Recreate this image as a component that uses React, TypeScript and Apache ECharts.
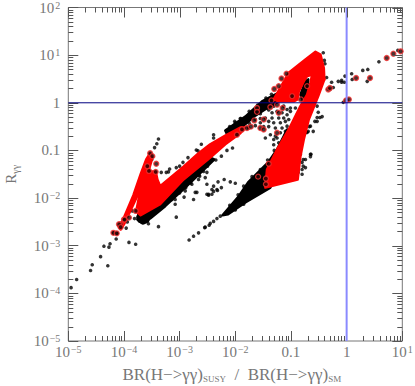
import React, { useEffect, useRef } from "react";
import * as echarts from "echarts";

// All values are log10(BR ratio), log10(R).
const scatterLeft = [[-4.95,-3.88],[-4.85,-3.71],[-4.6,-3.52],[-4.57,-3.4],[-4.42,-3.23],[-4.36,-3.01],[-4.29,-3.42],[-4.27,-3.03],[-4.25,-2.96],[-4.14,-2.86],[-4.19,-2.73],[-4.12,-2.74],[-3.91,-2.93],[-3.79,-2.97],[-3.96,-2.63],[-3.94,-2.5],[-3.81,-2.43],[-3.85,-2.27],[-3.56,-2.54],[-3.38,-2.6],[-3.06,-2.4]];
const scatterChain = [[-2.83,-2.88],[-2.75,-2.8],[-2.66,-2.73],[-2.55,-2.62],[-2.47,-2.57],[-2.54,-2.61],[-2.45,-2.53],[-2.39,-2.49],[-2.33,-2.43],[-2.27,-2.38]];
const scatterLowMid = [[-2.92,-1.98],[-2.69,-1.88],[-2.48,-1.94],[-3.14,-2.03],[-3.08,-2.13],[-2.48,-1.92],[-2.39,-1.86],[-2.32,-1.84],[-2.54,-1.57],[-2.51,-1.71],[-2.39,-1.75],[-2.31,-1.66],[-2.2,-1.61],[-2.09,-1.66],[-2.0,-1.69],[-2.42,-1.82],[-2.33,-1.82],[-2.25,-1.78],[-2.51,-1.92],[-2.42,-1.92]];
const scatterArm = [[-3.38,-0.76],[-3.41,-0.86],[-3.45,-0.94],[-3.52,-1.12],[-3.5,-1.19],[-3.33,-1.46],[-3.24,-1.46],[-3.18,-1.39],[-3.06,-1.36],[-2.94,-1.25],[-2.85,-1.15],[-2.67,-1.01],[-2.61,-0.87],[-2.7,-0.99],[-2.66,-1.61],[-2.72,-1.88],[-2.9,-1.85],[-3.0,-1.89],[-3.08,-2.03],[-2.75,-2.03],[-2.78,-1.71],[-2.89,-1.78],[-2.57,-1.44],[-2.64,-1.54],[-2.51,-1.46]];
const scatterRight = [[-0.8,-1.25],[-0.78,-1.33],[-0.87,-1.46],[-0.8,-1.5],[-0.74,-1.36],[-0.78,-1.19],[-0.74,-1.19],[-0.83,-1.08],[-0.65,-1.08],[-0.65,-1.13],[-0.8,-1.4],[-0.53,-0.31],[-0.48,-0.31],[-0.44,-0.29],[-0.53,-0.39],[-0.65,-0.49],[-0.6,-0.6],[-0.69,-0.6],[-0.71,-0.62],[-0.64,-1.08],[-0.51,-0.2],[-0.53,-0.07],[-0.42,1.05],[-0.4,0.89],[-0.39,0.82],[-0.36,0.53],[-0.27,0.43],[-0.24,0.32],[-0.3,0.28],[-0.15,0.45],[-0.09,0.47],[-0.09,0.43],[-0.03,0.56],[-0.04,0.43],[0.09,0.61],[0.1,0.49],[0.29,0.68],[0.38,0.7],[0.37,0.45],[0.58,0.86],[0.92,1.1],[-0.06,0.01],[-0.57,-0.39],[-0.67,-0.5],[-0.73,-0.62]];
const scatterMiddle = [[-2.39,-0.74],[-2.39,-0.67],[-2.01,-0.39],[-1.91,-0.33],[-1.64,-0.35],[-1.55,-0.33],[-1.46,-0.32],[-1.34,-0.21],[-1.25,-0.18],[-1.16,-0.21],[-1.07,-0.25],[-1.4,-0.39],[-1.31,-0.42],[-1.19,-0.42],[-1.1,-0.39],[-1.04,-0.35],[-1.49,-0.5],[-1.4,-0.5],[-1.28,-0.53],[-1.16,-0.53],[-1.07,-0.49],[-0.97,-0.46],[-1.37,-0.67],[-1.28,-0.7],[-1.19,-0.63],[-1.1,-0.6],[-1.01,-0.63],[-0.95,-0.56],[-0.89,-0.25],[-1.01,-0.18],[-0.92,-0.11],[-1.01,-0.11],[-1.43,-0.11],[-1.31,-0.07],[-1.13,-0.07],[-1.46,-0.74],[-1.25,-0.74],[-1.1,-0.7],[-1.55,-0.42],[-1.64,-0.48],[-1.76,-0.53],[-1.07,-0.14],[-1.22,-0.32],[-1.34,-0.32],[-1.13,-0.32],[-1.31,-0.77],[-1.22,-0.84],[-1.31,-0.88],[-1.13,-0.81],[-1.1,-0.67],[-0.95,-0.6]];
const scatterEdges = [[-2.1,-0.5],[-2.0,-0.42],[-1.9,-0.33],[-1.75,-0.18],[-1.6,-0.05],[-1.45,0.1],[-1.35,0.18],[-2.05,-0.66],[-1.9,-0.55],[-1.75,-0.43],[-1.55,-0.23],[-1.4,-0.15],[-2.1,-2.15],[-1.95,-1.93],[-1.85,-1.75],[-1.7,-1.55],[-1.55,-1.4],[-1.42,-1.2],[-1.3,-1.0],[-2.0,-2.25],[-1.85,-2.13],[-3.1,-1.92],[-2.95,-1.8],[-2.8,-1.68],[-2.65,-1.52],[-2.5,-1.33],[-2.35,-1.2],[-2.25,-1.12],[-2.15,-1.0],[-2.05,-0.95],[-3.2,-1.45],[-3.0,-1.33]];
const ringPoints = [[-1.08,0.61],[-1.17,0.51],[-1.22,0.35],[-1.3,0.29],[-1.35,0.05],[-1.61,-0.11],[-1.61,-0.19],[-1.37,-0.09],[-1.25,-0.04],[-1.15,-0.11],[-1.22,-0.21],[-1.66,-0.37],[-1.49,-0.35],[-1.55,-0.53],[-1.49,-0.56],[-1.25,-0.63],[-1.97,-0.67],[-1.88,-0.56],[-1.79,-0.53],[-1.72,-0.5],[-0.82,0.07],[-0.98,0.14],[-0.71,0.35],[-1.4,-1.28],[-1.59,-1.55],[-1.45,-1.59],[-1.45,-1.71],[-3.53,-1.06],[-3.49,-1.12],[-3.42,-1.28],[-3.43,-1.45],[-3.55,-1.43],[-3.58,-1.33],[-3.79,-2.27],[-3.91,-2.41],[-4.0,-2.45],[-4.06,-2.55],[-4.19,-2.73],[-4.09,-2.55],[-3.99,-2.45],[-4.06,-2.61],[-4.13,-2.74],[0.17,0.52],[0.42,0.52],[0.72,0.94],[0.84,1.03],[0.97,1.08],[-0.01,0.05],[0.04,0.07],[-0.33,0.28],[-0.3,0.31]];

const blackBlob = [[-3.76,-2.4],[-3.73,-2.31],[-3.65,-2.27],[-3.57,-2.31],[-3.54,-2.4],[-3.57,-2.49],[-3.65,-2.53],[-3.73,-2.49]];
const blackBandLower = [[-3.7,-2.32],[-3.35,-2.13],[-2.93,-1.61],[-2.45,-1.15],[-2.38,-1.19],[-2.9,-1.78],[-3.26,-2.17],[-3.53,-2.43],[-3.67,-2.53],[-3.76,-2.45]];
const blackWedge = [[-2.23,-2.36],[-1.95,-1.98],[-1.77,-1.67],[-1.41,-1.25],[-1.25,-0.98],[-1.07,-0.56],[-0.92,-0.56],[-1.37,-1.78],[-1.82,-2.09],[-2.13,-2.34]];
const blackStrip = [[-2.18,-0.58],[-1.82,-0.29],[-1.52,0.03],[-1.26,0.19],[-1.16,0.07],[-1.41,-0.1],[-1.64,-0.27],[-1.87,-0.5],[-2.13,-0.71]];
const blackHole = [[-0.83,0.17],[-0.74,0.45],[-0.69,0.49],[-0.71,0.14],[-0.77,0.0]];
const redBand = [[-3.78,-2.28],[-3.72,-1.92],[-3.61,-1.5],[-3.54,-1.44],[-3.43,-1.44],[-3.4,-1.61],[-3.35,-1.75],[-2.93,-1.34],[-2.68,-1.08],[-2.45,-0.87],[-2.18,-0.69],[-1.91,-0.52],[-1.82,-0.52],[-1.91,-0.64],[-2.18,-0.87],[-2.45,-1.15],[-2.93,-1.61],[-3.35,-2.13],[-3.7,-2.36]];
const redArm = [[-4.1,-2.59],[-4.03,-2.49],[-3.83,-1.94],[-3.7,-1.5],[-3.6,-1.19],[-3.53,-1.06],[-3.49,-1.15],[-3.56,-1.44],[-3.69,-1.78],[-3.83,-2.13],[-3.99,-2.53],[-4.06,-2.66]];
const redUpper = [[-1.31,0.07],[-1.04,0.63],[-0.74,0.91],[-0.56,1.07],[-0.47,1.01],[-0.41,0.73],[-0.4,0.49],[-0.47,0.52],[-0.62,0.59],[-0.71,0.56],[-0.77,0.45],[-0.86,0.24],[-0.88,0.07],[-0.95,0.03],[-1.22,0.03]];
const redLower = [[-0.62,0.59],[-0.4,0.49],[-0.51,0.14],[-0.68,-0.35],[-0.77,-0.77],[-0.83,-1.12],[-0.88,-1.61],[-1.46,-1.78],[-1.43,-1.4],[-1.25,-0.98],[-1.04,-0.56],[-0.83,-0.07],[-0.71,0.17],[-0.65,0.42]];

const blackRegions = [blackBlob, blackBandLower, blackWedge, blackStrip, blackHole];
const redRegions = [redBand, redArm, redUpper, redLower];
const xDecades = [-5, -4, -3, -2, -1, 0, 1];
const yDecades = [-5, -4, -3, -2, -1, 0, 1, 2];
const tickMultipliers = [2, 3, 4, 5, 6, 7, 8, 9];
const tickLabels: Record<string, string> = { "-5": "10{s|−5}", "-4": "10{s|−4}", "-3": "10{s|−3}", "-2": "10{s|−2}", "-1": "0.1", "0": "1", "1": "10{s|1}", "2": "10{s|2}" };
const xLimits = [1e-5, 10];
const yLimits = [1e-5, 100];
const serif = "'Liberation Serif', serif";
const gray = "#777777";
const tickGray = "#555555";

const toPoints = (list: number[][]) => list.map(([a, b]) => [10 ** a, 10 ** b]);

const regionSeries = (regions: number[][][], color: string, z: number) => ({
  type: "custom",
  coordinateSystem: "cartesian2d",
  z,
  silent: true,
  data: regions.map((_, i) => [1, 1, i]),
  renderItem: (_p: any, api: any) => {
    const poly = regions[api.value(2)];
    return {
      type: "polygon",
      shape: { points: toPoints(poly).map((p) => api.coord(p)) },
      style: { fill: color, stroke: color, lineWidth: 2.5, lineJoin: "round" },
    };
  },
});

const buildTicks = (decades: number[]) => {
  const out: number[][] = [];
  decades.forEach((d) => {
    out.push([10 ** d, 1]);
    if (d !== decades[decades.length - 1]) tickMultipliers.forEach((m) => out.push([m * 10 ** d, 0]));
  });
  return out;
};

const blackDots = [...scatterLeft, ...scatterChain, ...scatterLowMid, ...scatterArm, ...scatterRight, ...scatterMiddle, ...scatterEdges];

export default function App() {
  const ref = useRef<HTMLDivElement>(null);
  useEffect(() => {
    document.body.style.margin = "0";
    const chart = echarts.init(ref.current!, undefined, { renderer: "svg" });
    const labelCommon = {
      color: gray,
      fontFamily: serif,
      fontSize: 15,
      formatter: (v: number) => tickLabels[String(Math.round(Math.log10(v)))] ?? "",
      rich: { s: { fontSize: 10, fontFamily: serif, color: gray, verticalAlign: "top", lineHeight: 14, padding: [0, 0, 3, 1] } },
    };
    chart.setOption({
      animation: false,
      backgroundColor: "#ffffff",
      grid: { left: 68.3, top: 7.5, width: 334, height: 333.5, outerBoundsMode: "none", show: true, borderColor: gray, borderWidth: 1 },
      xAxis: {
        type: "log",
        logBase: 10,
        min: xLimits[0],
        max: xLimits[1],
        axisLine: { show: false },
        axisTick: { show: true, inside: true, length: 10, lineStyle: { color: tickGray, width: 1 } },
        splitLine: { show: false },
        minorTick: { show: false },
        axisLabel: { ...labelCommon, margin: 3, hideOverlap: false, showMinLabel: true, showMaxLabel: true },
        name: "{a|BR(H−>γγ)}{b|SUSY}{a|  /  BR(H−>γγ)}{b|SM}",
        nameLocation: "middle",
        nameGap: 24,
        nameTextStyle: {
          padding: [0, 7, 0, 0],
          rich: {
            a: { fontSize: 17, fontFamily: serif, color: gray, lineHeight: 18 },
            b: { fontSize: 9, fontFamily: serif, color: gray, verticalAlign: "bottom", lineHeight: 18, padding: [6, 0, 0, 0] },
          },
        },
      },
      yAxis: {
        type: "log",
        logBase: 10,
        min: yLimits[0],
        max: yLimits[1],
        axisLine: { show: false },
        axisTick: { show: true, inside: true, length: 10, lineStyle: { color: tickGray, width: 1 } },
        splitLine: { show: false },
        minorTick: { show: false },
        axisLabel: { ...labelCommon, margin: 8, showMinLabel: true, showMaxLabel: true },
        name: "{a|R}{b|γγ}",
        nameLocation: "middle",
        nameGap: 48,
        nameRotate: 90,
        nameTextStyle: {
          rich: {
            a: { fontSize: 15, fontFamily: serif, color: gray, lineHeight: 18 },
            b: { fontSize: 10, fontFamily: serif, color: gray, verticalAlign: "bottom", lineHeight: 18, padding: [6, 0, 0, 0] },
          },
        },
      },
      series: [
        regionSeries(blackRegions, "#000000", 2),
        {
          type: "scatter",
          z: 3,
          silent: true,
          symbolSize: 3.6,
          itemStyle: { color: "#000000" },
          data: toPoints(blackDots),
        },
        regionSeries(redRegions, "#ff0000", 4),
        {
          type: "scatter",
          z: 5,
          silent: true,
          symbolSize: 5,
          itemStyle: { color: "#200000", borderColor: "#f53030", borderWidth: 1.3 },
          data: toPoints(ringPoints),
        },
        {
          type: "line",
          z: 6,
          silent: true,
          symbol: "none",
          lineStyle: { color: "#8a8aff", width: 2 },
          data: [[1, yLimits[0]], [1, yLimits[1]]],
        },
        {
          type: "line",
          z: 7,
          silent: true,
          symbol: "none",
          lineStyle: { color: "#000080", width: 1 },
          data: [[xLimits[0], 1], [xLimits[1], 1]],
        },
      ],
    });
    // Remaining tick marks: positions come from the chart's own scales, lengths are in pixels.
    const tickElements: any[] = [];
    const addTick = (x1: number, y1: number, x2: number, y2: number) =>
      tickElements.push({ type: "line", z: 100, shape: { x1, y1, x2, y2 }, style: { stroke: tickGray, lineWidth: 1 } });
    buildTicks(xDecades).forEach(([v, major]) => {
      const low = chart.convertToPixel({ gridIndex: 0 }, [v, yLimits[0]]);
      const high = chart.convertToPixel({ gridIndex: 0 }, [v, yLimits[1]]);
      const x = Math.round(low[0]) + 0.5;
      if (!major) addTick(x, low[1], x, low[1] - 5);
      addTick(x, high[1], x, high[1] + (major ? 10 : 5));
    });
    buildTicks(yDecades).forEach(([v, major]) => {
      const low = chart.convertToPixel({ gridIndex: 0 }, [xLimits[0], v]);
      const high = chart.convertToPixel({ gridIndex: 0 }, [xLimits[1], v]);
      const y = Math.round(low[1]) + 0.5;
      if (!major) addTick(low[0], y, low[0] + 5, y);
      addTick(high[0], y, high[0] - (major ? 10 : 5), y);
    });
    chart.setOption({ graphic: { elements: tickElements } });
    return () => chart.dispose();
  }, []);
  return <div ref={ref} style={{ width: 415, height: 386 }} />;
}
